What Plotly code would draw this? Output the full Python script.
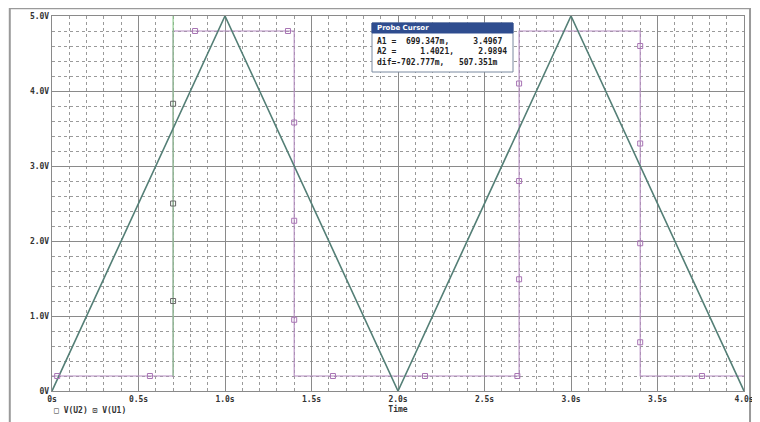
import plotly.graph_objects as go

# V(U2): triangle wave
tri_t = [0.0, 1.0, 2.0, 3.0, 4.0]
tri_v = [0.0, 5.0, 0.0, 5.0, 0.0]

# V(U1): comparator output with hysteresis
out_t = [0.0, 0.7, 0.7, 1.4, 1.4, 2.7, 2.7, 3.4, 3.4, 4.0]
out_v = [0.2, 0.2, 4.8, 4.8, 0.2, 0.2, 4.8, 4.8, 0.2, 0.2]

# rising edge at cursor A1 (drawn green)
edge_t = [0.7, 0.7]
edge_v = [0.2, 5.0]

# symbol markers placed along V(U1)
out_mk_t = [0.03, 0.566, 0.827, 1.364, 1.4, 1.4, 1.4, 1.624, 2.156, 2.69,
            2.7, 2.7, 2.7, 3.4, 3.4, 3.4, 3.4, 3.757]
out_mk_v = [0.2, 0.2, 4.8, 4.8, 3.58, 2.27, 0.95, 0.2, 0.2, 0.2,
            4.1, 2.8, 1.49, 4.6, 3.3, 1.97, 0.65, 0.2]
edge_mk_t = [0.7, 0.7, 0.7]
edge_mk_v = [3.83, 2.5, 1.2]

x_ticks = [0, 0.5, 1.0, 1.5, 2.0, 2.5, 3.0, 3.5, 4.0]
x_labels = ["0s", "0.5s", "1.0s", "1.5s", "2.0s", "2.5s", "3.0s", "3.5s", "4.0s"]
y_ticks = [0, 1, 2, 3, 4, 5]
y_labels = ["0V", "1.0V", "2.0V", "3.0V", "4.0V", "5.0V"]

cursor_lines = [
    "A1 =  699.347m,     3.4967",
    "A2 =     1.4021,     2.9894",
    "dif=-702.777m,   507.351m",
]

MONO = "DejaVu Sans Mono"
PURPLE = "#b48cc0"
TRI = "#547f76"

fig = go.Figure()
fig.add_trace(go.Scatter(x=out_t, y=out_v, mode="lines", line=dict(color=PURPLE, width=1.1)))
fig.add_trace(go.Scatter(x=edge_t, y=edge_v, mode="lines", line=dict(color="#86c886", width=1.1)))
fig.add_trace(go.Scatter(x=tri_t, y=tri_v, mode="lines", line=dict(color=TRI, width=1.6)))
fig.add_trace(go.Scatter(x=out_mk_t, y=out_mk_v, mode="markers",
                         marker=dict(symbol="square-open", size=5, color="#a874b4", line=dict(width=1))))
fig.add_trace(go.Scatter(x=edge_mk_t, y=edge_mk_v, mode="markers",
                         marker=dict(symbol="square-open", size=5, color="#666666", line=dict(width=1))))

axis_common = dict(
    showgrid=True, gridcolor="#8a8a8a", gridwidth=1.4,
    showline=True, linecolor="#8a8a8a", linewidth=1.4, mirror=True,
    zeroline=False, ticks="", fixedrange=True, automargin=False,
    tickfont=dict(family=MONO, size=8, color="#333333", weight="bold"),
)
fig.update_xaxes(range=[0, 4], tickvals=x_ticks, ticktext=x_labels,
                 minor=dict(dtick=0.1, showgrid=True, gridcolor="#9a9a9a", griddash="dot", gridwidth=1),
                 title=dict(text="Time", font=dict(family=MONO, size=8, color="#333333", weight="bold"),
                            standoff=3),
                 **axis_common)
fig.update_yaxes(range=[0, 5], tickvals=y_ticks, ticktext=y_labels,
                 minor=dict(dtick=0.2, showgrid=True, gridcolor="#9a9a9a", griddash="dot", gridwidth=1),
                 **axis_common)

# outer window frame
fig.add_shape(type="rect", xref="paper", yref="paper", x0=-0.061, x1=1.0087, y0=-0.2, y1=1.021,
              line=dict(color="#9a9a9a", width=2), layer="below")

# probe cursor box
bx0, bx1 = (372 - 52) / 692, (513 - 52) / 692
by_top, by_bar, by_bot = (391 - 23) / 375, (391 - 33) / 375, (391 - 72) / 375
fig.add_shape(type="rect", xref="paper", yref="paper", x0=bx0, x1=bx1, y0=by_bot, y1=by_top,
              fillcolor="white", line=dict(color="#7a8aa0", width=1))
fig.add_shape(type="rect", xref="paper", yref="paper", x0=bx0, x1=bx1, y0=by_bar, y1=by_top,
              fillcolor="#2f4d8f", line=dict(color="#2f4d8f", width=1))
fig.add_annotation(xref="paper", yref="paper", x=bx0 + 0.004, y=(by_bar + by_top) / 2,
                   text="<b>Probe Cursor</b>", showarrow=False, xanchor="left", yanchor="middle",
                   font=dict(family="DejaVu Sans", size=7, color="white"))
fig.add_annotation(xref="paper", yref="paper", x=bx0 + 0.004, y=by_bar - 0.006,
                   text="<br>".join(cursor_lines), showarrow=False, xanchor="left", yanchor="top",
                   align="left", font=dict(family=MONO, size=8, color="#222222", weight="bold"))

# legend text
fig.add_annotation(xref="paper", yref="paper", x=0.0, y=-0.051, text="□ V(U2) ⊡ V(U1)",
                   showarrow=False, xanchor="left", yanchor="middle",
                   font=dict(family=MONO, size=8, color="#333333", weight="bold"))

# page body adds an 8px offset, so the figure is 8px smaller than the window
fig.update_layout(
    width=752, height=414,
    margin=dict(l=44, r=16, t=8, b=31),
    paper_bgcolor="white", plot_bgcolor="white",
    showlegend=False,
)

fig.write_html("out.html")
